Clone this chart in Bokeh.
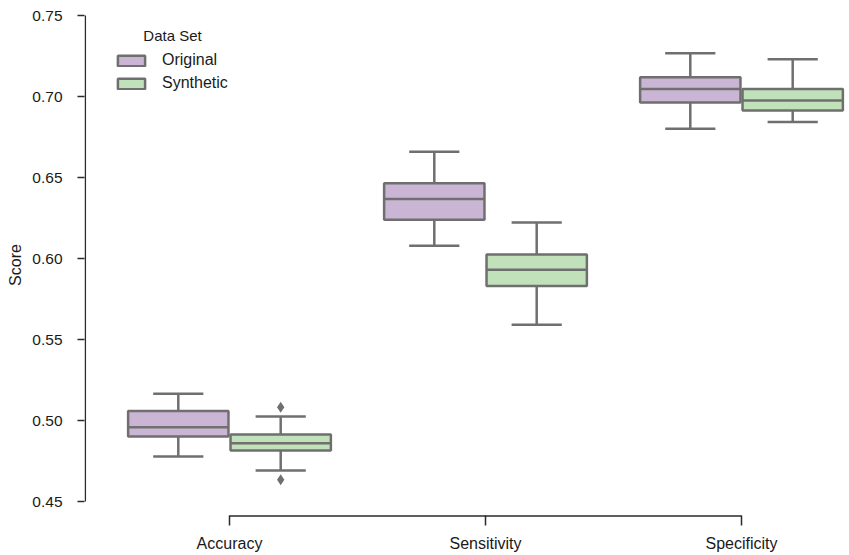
from bokeh.plotting import figure
from bokeh.models import Range1d, FixedTicker, Legend, LegendItem, NumeralTickFormatter, Label
from bokeh.embed import file_html
from bokeh.resources import INLINE

# ---- data ----
categories = ["Accuracy", "Sensitivity", "Specificity"]
series = ["Original", "Synthetic"]

orig_low = [0.4778, 0.6078, 0.6801]
orig_q1 = [0.4901, 0.6239, 0.6963]
orig_med = [0.4959, 0.6368, 0.7047]
orig_q3 = [0.5058, 0.6465, 0.7119]
orig_high = [0.5165, 0.6659, 0.7267]

syn_low = [0.4691, 0.5591, 0.6842]
syn_q1 = [0.4815, 0.5831, 0.6914]
syn_med = [0.4860, 0.5930, 0.6975]
syn_q3 = [0.4914, 0.6025, 0.7047]
syn_high = [0.5025, 0.6222, 0.7230]

syn_outlier_cat = [0, 0]
syn_outlier_val = [0.5082, 0.4634]

y_ticks = [0.45, 0.50, 0.55, 0.60, 0.65, 0.70, 0.75]

# ---- styling / layout ----
FONT = "Liberation Sans"
PURPLE = "#cbb5d5"
GREEN = "#c1e1bb"
EDGE = "#6f6f6f"
AXIS = "#2a2a2a"
BOX_W = 0.392
OFFSET = 0.2

XS = 256.0     # px per category
YS = 1620.0    # px per score unit
LEFT = 84
x_start = -(229 - LEFT) / XS
x_end = 2 + (849 - 741) / XS
y_end = y_ticks[-1] + 3 / YS
y_start = y_ticks[0] - 16 / YS

p = figure(width=849, height=555, output_backend="svg", toolbar_location=None,
           x_range=Range1d(x_start, x_end), y_range=Range1d(y_start, y_end),
           min_border_left=LEFT, min_border_right=0, min_border_top=12, min_border_bottom=38)
p.outline_line_color = None
p.grid.visible = False
p.background_fill_color = "white"

idx = list(range(len(categories)))


def draw(values, offset, color):
    low, q1, med, q3, high = values
    xs = [i + offset for i in idx]
    cap = BOX_W / 4
    p.segment(x0=xs, y0=q3, x1=xs, y1=high, line_color=EDGE, line_width=2.5)
    p.segment(x0=xs, y0=low, x1=xs, y1=q1, line_color=EDGE, line_width=2.5)
    p.segment(x0=[x - cap for x in xs], y0=high, x1=[x + cap for x in xs], y1=high,
              line_color=EDGE, line_width=2.5)
    p.segment(x0=[x - cap for x in xs], y0=low, x1=[x + cap for x in xs], y1=low,
              line_color=EDGE, line_width=2.5)
    box = p.vbar(x=xs, bottom=q1, top=q3, width=BOX_W, fill_color=color,
                 line_color=EDGE, line_width=2.5)
    p.segment(x0=[x - BOX_W / 2 for x in xs], y0=med, x1=[x + BOX_W / 2 for x in xs], y1=med,
              line_color=EDGE, line_width=2.5)
    return box


r_o = draw((orig_low, orig_q1, orig_med, orig_q3, orig_high), -OFFSET, PURPLE)
r_s = draw((syn_low, syn_q1, syn_med, syn_q3, syn_high), OFFSET, GREEN)

p.scatter(x=[c + OFFSET for c in syn_outlier_cat], y=syn_outlier_val, marker="diamond",
          size=11, fill_color=EDGE, line_color=EDGE, line_width=0)

# trimmed axis lines (seaborn despine(trim=True, offset))
x_axis_y = y_ticks[0] - 14.5 / YS
y_axis_x = x_start + 0.8 / XS
p.segment(x0=[y_axis_x], y0=[y_ticks[0]], x1=[y_axis_x], y1=[y_ticks[-1]],
          line_color=AXIS, line_width=1.5)
p.segment(x0=[idx[0]], y0=[x_axis_y], x1=[idx[-1]], y1=[x_axis_y],
          line_color=AXIS, line_width=1.5)

# axes
xa = p.xaxis[0]
xa.ticker = FixedTicker(ticks=idx)
xa.major_label_overrides = {i: c for i, c in zip(idx, categories)}
ya = p.yaxis[0]
ya.ticker = FixedTicker(ticks=y_ticks)
ya.formatter = NumeralTickFormatter(format="0.00")
ya.axis_label = "Score"
for ax in (xa, ya):
    ax.axis_line_color = None
    ax.minor_tick_line_color = None
    ax.major_tick_line_color = AXIS
    ax.major_tick_line_width = 1.5
    ax.major_label_text_font = FONT
    ax.major_label_text_color = "#1a1a1a"
    ax.axis_label_text_font = FONT
    ax.axis_label_text_font_size = "16px"
    ax.axis_label_text_font_style = "normal"
    ax.axis_label_text_color = "#1a1a1a"
xa.major_label_text_font_size = "16px"
ya.major_label_text_font_size = "15.5px"
xa.major_tick_in = 2
xa.major_tick_out = 8
xa.major_label_standoff = 9
ya.major_tick_in = 0
ya.major_tick_out = 7
ya.major_label_standoff = 15
ya.axis_label_standoff = 5

# legend
legend = Legend(items=[LegendItem(label=series[0], renderers=[r_o]),
                       LegendItem(label=series[1], renderers=[r_s])],
                location=(30, 425))
legend.label_text_font = FONT
legend.label_text_font_size = "16px"
legend.label_text_color = "#1a1a1a"
legend.glyph_width = 34
legend.glyph_height = 13
legend.label_standoff = 14
legend.spacing = 5
legend.padding = 0
legend.margin = 0
legend.border_line_color = None
legend.background_fill_alpha = 0
p.add_layout(legend)

title = Label(x=x_start + (172 - LEFT) / XS, y=y_end - 23 / YS, text="Data Set",
              text_font=FONT, text_font_size="15px", text_color="#1a1a1a",
              text_align="center", text_baseline="middle")
p.add_layout(title)

open("out.html", "w").write(file_html(p, INLINE))
